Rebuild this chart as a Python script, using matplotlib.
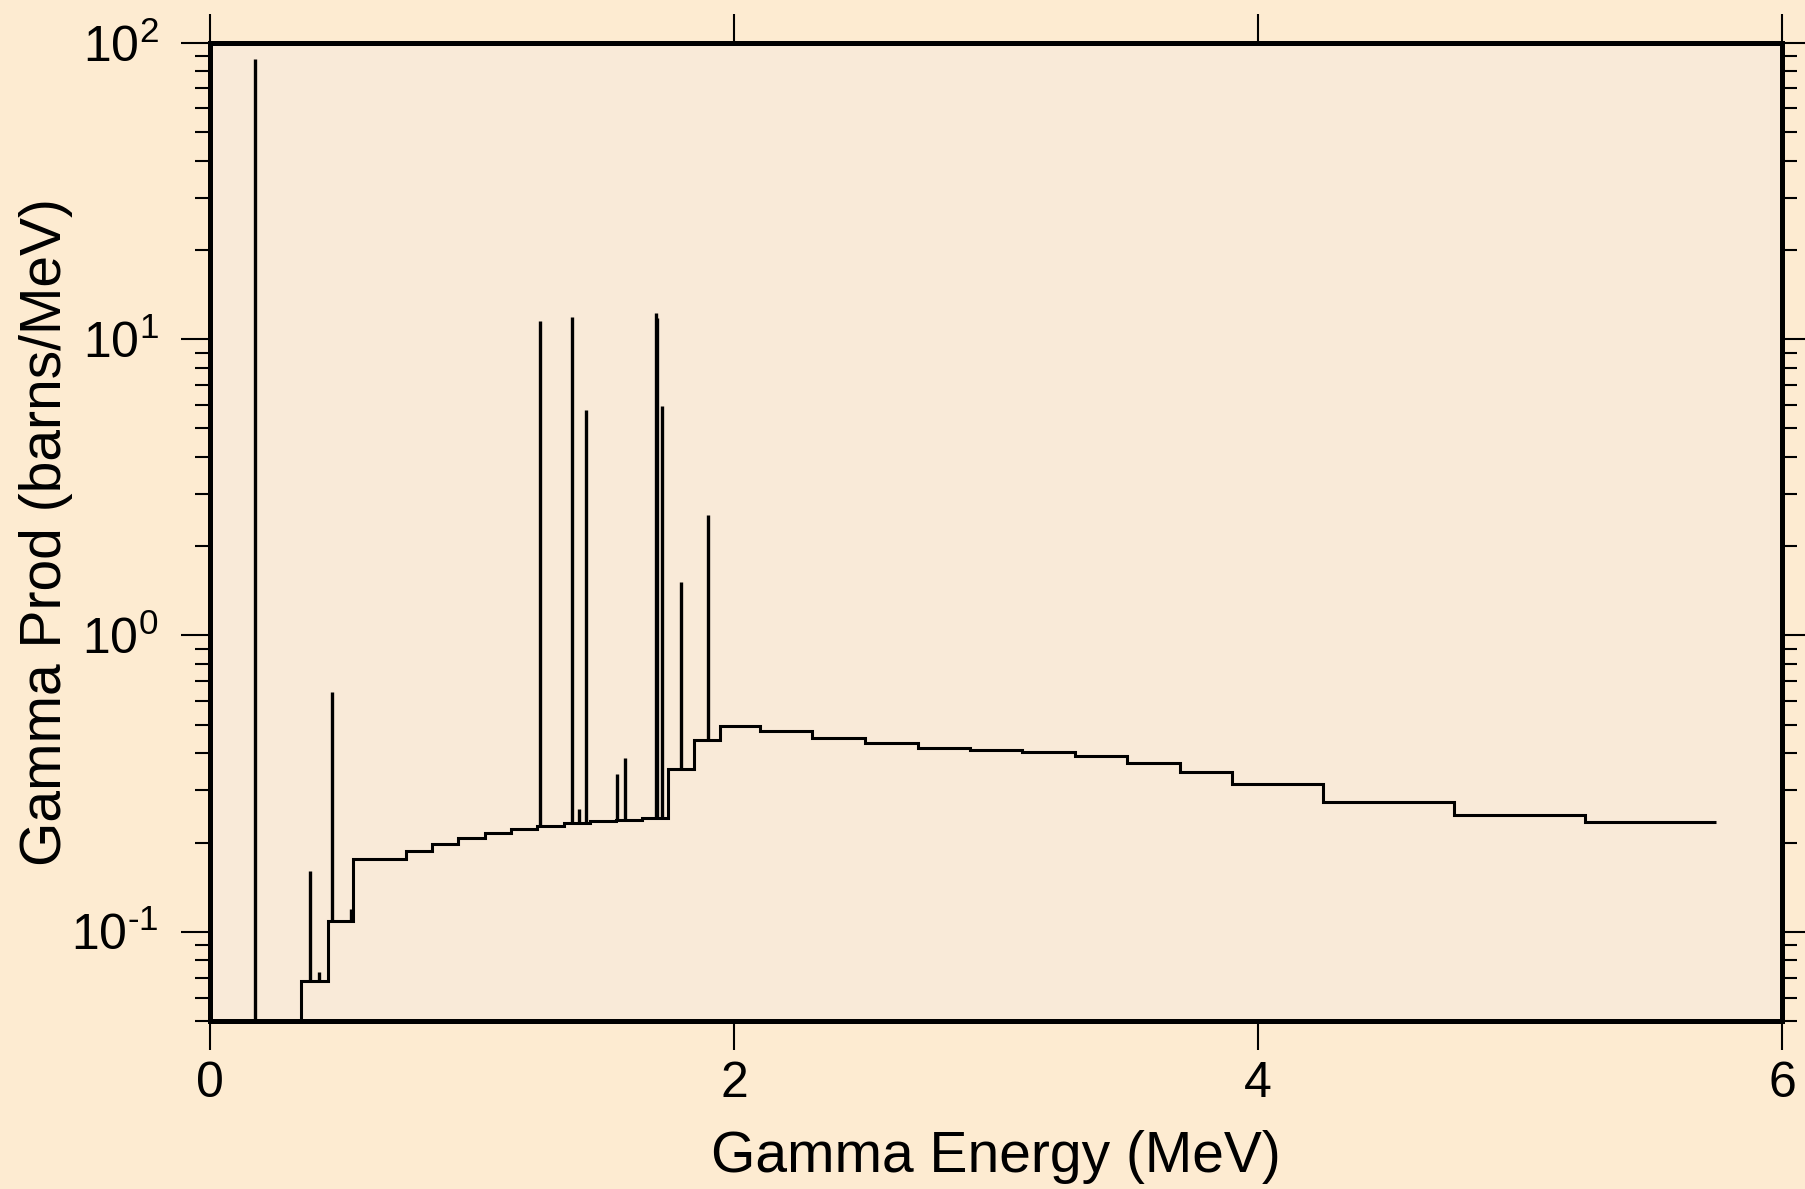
import numpy as np
import matplotlib
matplotlib.use('Agg')
import matplotlib.pyplot as plt
from matplotlib.ticker import FixedLocator, LogLocator, FuncFormatter, NullFormatter

# continuum: bin edges (MeV) and values (barns/MeV); first bin lies below the axis
edges = [0.0, 0.346, 0.449, 0.546, 0.748, 0.848, 0.947, 1.049, 1.148, 1.250,
         1.351, 1.451, 1.550, 1.648, 1.750, 1.848, 1.947, 2.098, 2.298, 2.499,
         2.701, 2.899, 3.100, 3.302, 3.501, 3.701, 3.900, 4.248, 4.749, 5.248, 5.746]
levels = [0.01, 0.068, 0.109, 0.176, 0.187, 0.198, 0.207, 0.2155, 0.222, 0.228,
          0.232, 0.2357, 0.2376, 0.2415, 0.354, 0.443, 0.493, 0.476, 0.452, 0.4325,
          0.417, 0.4115, 0.404, 0.391, 0.371, 0.346, 0.316, 0.275, 0.248, 0.2346]

# discrete gamma lines
line_e = [0.173, 0.383, 0.417, 0.464, 0.537, 1.260, 1.381, 1.407, 1.434,
          1.554, 1.583, 1.702, 1.707, 1.725, 1.798, 1.901]
line_h = [88.0, 0.160, 0.073, 0.643, 0.119, 11.5, 11.9, 0.26, 5.75,
          0.34, 0.387, 12.2, 11.8, 5.94, 1.51, 2.54]

plt.rcParams['font.family'] = ['Liberation Sans', 'DejaVu Sans']
plt.rcParams['mathtext.fontset'] = 'custom'
plt.rcParams['mathtext.rm'] = 'Liberation Sans'
plt.rcParams['mathtext.it'] = 'Liberation Sans'
plt.rcParams['mathtext.bf'] = 'Liberation Sans'
plt.rcParams['mathtext.default'] = 'regular'

bg_out = '#fdebd1'
bg_in = '#f9ead8'


def logfmt(v, pos):
    e = int(round(np.log10(v)))
    if e < 0:
        return r'$10^{\text{-%d}}$' % (-e)
    return r'$10^{%d}$' % e


fig = plt.figure(figsize=(18.05, 11.89), dpi=100, facecolor=bg_out)
ax = fig.add_axes([0.1163, 0.1413, 0.8710, 0.8229], facecolor=bg_in)

ax.stairs(levels, edges, color='black', lw=2.2, baseline=None)
idx = np.searchsorted(edges, line_e, side='right') - 1
base = np.array(levels)[idx]
ax.vlines(line_e, base, line_h, color='black', lw=2.4)

ax.set_yscale('log')
ax.set_xlim(0, 6)
ax.set_ylim(0.05, 100)

ax.xaxis.set_major_locator(FixedLocator([0, 2, 4, 6]))
ax.xaxis.set_major_formatter(FuncFormatter(lambda v, p: '%d' % v))
ax.yaxis.set_major_locator(LogLocator(base=10, numticks=10))
ax.yaxis.set_minor_locator(LogLocator(base=10, subs=np.arange(2, 10), numticks=20))
ax.yaxis.set_minor_formatter(NullFormatter())
ax.yaxis.set_major_formatter(FuncFormatter(logfmt))

for s in ax.spines.values():
    s.set_linewidth(3.6)

ax.tick_params(which='both', direction='out', top=True, right=True, width=1.5, color='black')
ax.tick_params(which='major', length=21, labelsize=36)
ax.tick_params(which='minor', length=10.5)
ax.tick_params(axis='x', which='major', pad=8)
ax.tick_params(axis='y', which='major', pad=16)

ax.set_xlabel('Gamma Energy (MeV)', fontsize=41, va='center')
ax.xaxis.set_label_coords(0.5, -0.139)
ax.set_ylabel('Gamma Prod (barns/MeV)', fontsize=41, va='center')
ax.yaxis.set_label_coords(-0.104, 0.5)

fig.savefig('out.png', dpi=100, facecolor=bg_out)
